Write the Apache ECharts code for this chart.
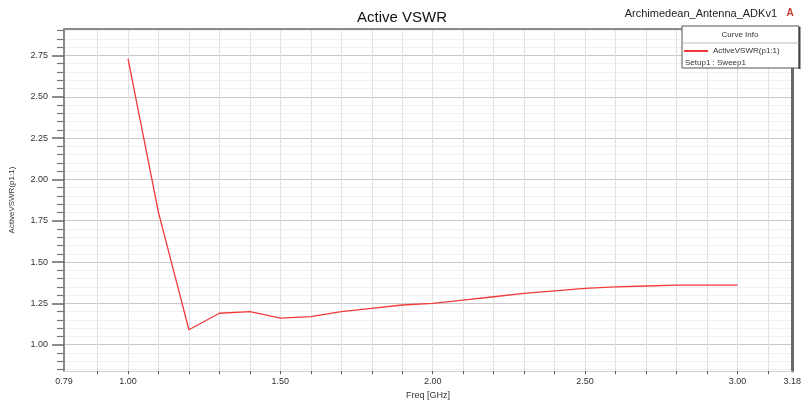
<!DOCTYPE html>
<html>
<head>
<meta charset="utf-8">
<style>html,body{margin:0;padding:0;background:#fff;}#chart{width:804px;height:405px;}</style>
<script src="https://cdn.jsdelivr.net/npm/echarts@6/dist/echarts.min.js"></script>
</head>
<body>
<div id="chart"></div>
<script>
// Data
const freqGHz = [1.0, 1.1, 1.2, 1.3, 1.4, 1.5, 1.6, 1.7, 1.8, 1.9, 2.0, 2.1, 2.2, 2.3, 2.4, 2.5, 2.6, 2.7, 2.8, 2.9, 3.0];
const activeVswr = [2.73, 1.80, 1.09, 1.19, 1.20, 1.16, 1.17, 1.20, 1.22, 1.24, 1.25, 1.27, 1.29, 1.31, 1.325, 1.34, 1.35, 1.355, 1.36, 1.36, 1.36];
const xLabelValues = [0.79, 1.00, 1.50, 2.00, 2.50, 3.00, 3.18];
const xTickValues = [0.9, 1.0, 1.1, 1.2, 1.3, 1.4, 1.5, 1.6, 1.7, 1.8, 1.9, 2.0, 2.1, 2.2, 2.3, 2.4, 2.5, 2.6, 2.7, 2.8, 2.9, 3.0, 3.1];
const yLabelValues = [1.00, 1.25, 1.50, 1.75, 2.00, 2.25, 2.50, 2.75];
const yMinorValues = [0.85, 0.90, 0.95, 1.05, 1.10, 1.15, 1.20, 1.30, 1.35, 1.40, 1.45, 1.55, 1.60, 1.65, 1.70, 1.80, 1.85, 1.90, 1.95, 2.05, 2.10, 2.15, 2.20, 2.30, 2.35, 2.40, 2.45, 2.55, 2.60, 2.65, 2.70, 2.80, 2.85, 2.90];
const X_MIN = 0.79, X_MAX = 3.18, Y_MIN = 0.84, Y_MAX = 2.91;

const chart = echarts.init(document.getElementById('chart'), null, {renderer: 'canvas'});
const font = 'Liberation Sans, Arial, sans-serif';
const fmt2 = v => Number(v).toFixed(2);

chart.setOption({
  animation: false,
  backgroundColor: '#ffffff',
  textStyle: {fontFamily: font},
  title: {
    text: 'Active VSWR', left: 'center', top: 5,
    textStyle: {fontSize: 15, fontWeight: 'normal', color: '#111', fontFamily: font}
  },
  grid: {left: 63, right: 7, top: 29, bottom: 32, containLabel: false},
  legend: {
    data: ['ActiveVSWR(p1:1)'],
    left: 684, top: 47, z: 30,
    icon: 'rect', itemWidth: 24, itemHeight: 2, itemGap: 4,
    textStyle: {fontSize: 8, color: '#333', fontFamily: font},
    padding: 0
  },
  xAxis: [
    {
      type: 'value', min: X_MIN, max: X_MAX, position: 'bottom',
      name: 'Freq [GHz]', nameLocation: 'middle', nameGap: 18,
      nameTextStyle: {fontSize: 9, color: '#333', fontFamily: font},
      axisLine: {show: true, onZero: false, lineStyle: {color: '#cfcfcf', width: 1}},
      axisTick: {show: true, length: 3, customValues: xTickValues, lineStyle: {color: '#555'}},
      axisLabel: {customValues: xLabelValues, formatter: fmt2, fontSize: 9, color: '#333', margin: 6, fontFamily: font},
      splitLine: {show: true, lineStyle: {color: '#e2e2e2', width: 1}}
    },
    {
      type: 'value', min: X_MIN, max: X_MAX, position: 'top',
      axisLine: {show: true, onZero: false, lineStyle: {color: '#8a8a8a', width: 2}},
      axisTick: {show: false}, axisLabel: {show: false}, splitLine: {show: false}
    }
  ],
  yAxis: [
    {
      type: 'value', min: Y_MIN, max: Y_MAX, position: 'left',
      name: 'ActiveVSWR(p1:1)', nameLocation: 'middle', nameGap: 48, nameRotate: 90,
      nameTextStyle: {fontSize: 8, color: '#333', fontFamily: font},
      axisLine: {show: true, onZero: false, lineStyle: {color: '#8a8a8a', width: 2}},
      axisTick: {show: true, length: 12, customValues: yLabelValues, lineStyle: {color: '#666', width: 1.5}},
      axisLabel: {customValues: yLabelValues, formatter: fmt2, fontSize: 9, color: '#333', margin: 16, fontFamily: font},
      splitLine: {show: true, lineStyle: {color: '#c8c8c8', width: 1}}
    },
    {
      type: 'value', min: Y_MIN, max: Y_MAX, position: 'left',
      axisLine: {show: false},
      axisTick: {show: true, length: 7, customValues: yMinorValues, lineStyle: {color: '#777', width: 1.2}},
      axisLabel: {show: false},
      splitLine: {show: true, lineStyle: {color: '#f0f0f0', width: 1}}
    },
    {
      type: 'value', min: Y_MIN, max: Y_MAX, position: 'right',
      axisLine: {show: true, onZero: false, lineStyle: {color: '#6a6a6a', width: 3}},
      axisTick: {show: false}, axisLabel: {show: false}, splitLine: {show: false}
    }
  ],
  series: [{
    name: 'ActiveVSWR(p1:1)',
    type: 'line',
    xAxisIndex: 0, yAxisIndex: 0,
    data: freqGHz.map((f, i) => [f, activeVswr[i]]),
    showSymbol: false, symbol: 'none',
    lineStyle: {color: '#f23a3a', width: 1.3},
    itemStyle: {color: '#f23a3a'},
    z: 5
  }],
  graphic: [
    {type: 'rect', shape: {x: 682, y: 26, width: 117, height: 42}, style: {fill: '#fff', stroke: '#555', lineWidth: 1}, z: 10},
    {type: 'line', shape: {x1: 799.5, y1: 27, x2: 799.5, y2: 69}, style: {stroke: '#444', lineWidth: 2}, z: 10},
    {type: 'line', shape: {x1: 683, y1: 43, x2: 799, y2: 43}, style: {stroke: '#bbb', lineWidth: 1}, z: 11},
    {type: 'text', style: {text: 'Curve Info', x: 740, y: 35, align: 'center', verticalAlign: 'middle', fontSize: 8, fill: '#333', fontFamily: font}, z: 11},
    {type: 'text', style: {text: 'Setup1 : Sweep1', x: 685, y: 63, align: 'left', verticalAlign: 'middle', fontSize: 8, fill: '#333', fontFamily: font}, z: 11},
    {type: 'text', style: {text: 'Archimedean_Antenna_ADKv1', x: 777, y: 14, align: 'right', verticalAlign: 'middle', fontSize: 11, fill: '#222', fontFamily: font}, z: 11},
    {type: 'text', style: {text: 'A', x: 790, y: 13, align: 'center', verticalAlign: 'middle', fontSize: 10, fontWeight: 'bold', fill: '#c0392b', fontFamily: font}, z: 11}
  ]
});
</script>
</body>
</html>
